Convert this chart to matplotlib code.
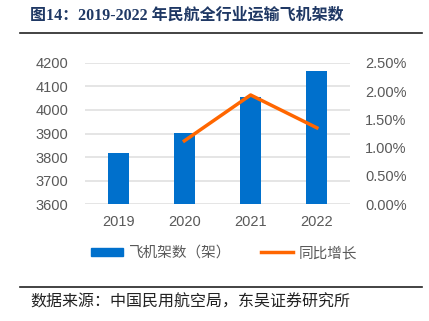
import matplotlib
matplotlib.use("Agg")
import matplotlib.pyplot as plt
from matplotlib.lines import Line2D
from matplotlib.patches import Patch

years = ["2019", "2020", "2021", "2022"]
fleet = [3818, 3903, 4054, 4165]
growth_years = ["2020", "2021", "2022"]
growth = [1.12, 1.93, 1.35]  # %
left_ticks = [3600, 3700, 3800, 3900, 4000, 4100, 4200]
right_ticks = [0.0, 0.5, 1.0, 1.5, 2.0, 2.5]

title = "图14：2019-2022 年民航全行业运输飞机架数"
source = "数据来源：中国民用航空局，东吴证券研究所"
legend_labels = ["飞机架数（架）", "同比增长"]

plt.rcParams['font.family'] = ['Liberation Sans', 'Noto Sans CJK SC', 'DejaVu Sans']

W, H = 429, 321
fig = plt.figure(figsize=(W / 100, H / 100), dpi=100)

ax = fig.add_axes([85 / W, 1 - 204.3 / H, 265 / W, 141.6 / H])
blue = "#0070CC"
orange = "#FF6600"
gray = "#595959"

x = list(range(len(years)))
ax.bar(x, fleet, width=0.32, color=blue, zorder=3, bottom=0)
ax.set_ylim(3600, 4200)
ax.set_xlim(-0.5, 3.5)
ax.set_yticks(left_ticks)
ax.set_xticks(x)
ax.set_xticklabels(years)
ax.grid(axis='y', color='#E0E0E0', linewidth=1.2, zorder=0)
for s in ax.spines.values():
    s.set_visible(False)
ax.tick_params(axis='both', length=0, labelsize=10.5, colors=gray, pad=12)
ax.tick_params(axis='x', pad=8)

ax2 = ax.twinx()
gx = [years.index(y) for y in growth_years]
ax2.plot(gx, growth, color=orange, linewidth=2.5, zorder=4)
ax2.set_ylim(0, 2.5)
ax2.set_yticks(right_ticks)
ax2.set_yticklabels([f"{v:.2f}%" for v in right_ticks])
for s in ax2.spines.values():
    s.set_visible(False)
ax2.tick_params(axis='y', length=0, labelsize=10.5, colors=gray, pad=11)

# title
fig.text(30 / W, 1 - 16 / H, title, fontsize=11.5, fontweight='bold', color='#1F3864',
         family=['Liberation Serif', 'Noto Sans CJK SC'], va='center', ha='left')
fig.add_artist(Line2D([20 / W, 422 / W], [1 - 33 / H, 1 - 33 / H], color='#222222', linewidth=1.2))

# legend
handles = [Patch(color=blue), Line2D([0], [0], color=orange, linewidth=2.5)]
leg = fig.legend(handles, legend_labels, loc='center', bbox_to_anchor=(224 / W, 1 - 253 / H),
                 ncol=2, frameon=False, fontsize=10.5, handlelength=2.2, handleheight=0.5,
                 columnspacing=2.0, handletextpad=0.4)
for t in leg.get_texts():
    t.set_color(gray)

fig.add_artist(Line2D([20 / W, 422 / W], [1 - 287 / H, 1 - 287 / H], color='#222222', linewidth=1.2))
fig.text(30 / W, 1 - 302 / H, source, fontsize=11.5, color='#222222',
         family=['Noto Sans CJK SC'], va='center', ha='left')

fig.savefig("out.png", dpi=100)
